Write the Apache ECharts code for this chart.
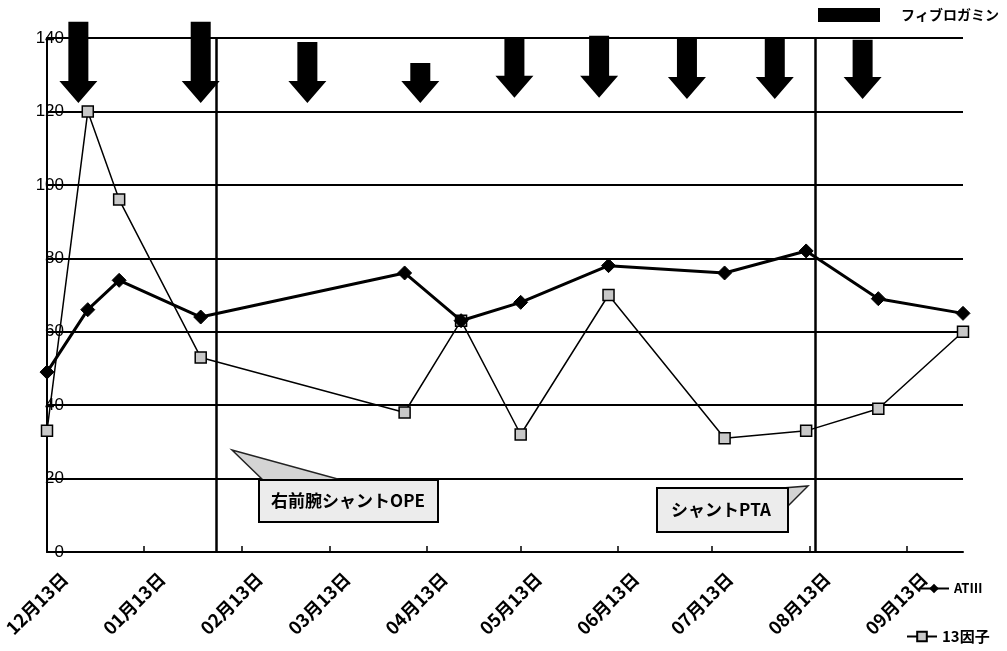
<!DOCTYPE html>
<html>
<head>
<meta charset="utf-8">
<script src="https://cdn.jsdelivr.net/npm/echarts@6/dist/echarts.min.js"></script>
<style>
html, body { margin: 0; padding: 0; background: #fff; }
#chart { width: 1007px; height: 651px; }
</style>
</head>
<body>
<div id="chart"></div>
<script>
// measurement dates (shared by both series)
const measureDates = ['2004-12-13', '2004-12-26', '2005-01-05', '2005-01-31', '2005-04-06', '2005-04-24',
                      '2005-05-13', '2005-06-10', '2005-07-17', '2005-08-12', '2005-09-04', '2005-10-01'];
const at3Values = [49, 66, 74, 64, 76, 63, 68, 78, 76, 82, 69, 65];
const f13Values = [33, 120, 96, 53, 38, 63, 32, 70, 31, 33, 39, 60];

// フィブロガミン given on these days; arrow top / tip read in y units
const fibroDates = ['2004-12-23', '2005-01-31', '2005-03-06', '2005-04-11', '2005-05-11',
                    '2005-06-07', '2005-07-05', '2005-08-02', '2005-08-30'];
const fibroTop = [144.4, 144.4, 138.9, 133.2, 140.3, 140.6, 140, 140, 139.5];
const fibroTip = [122.3, 122.3, 122.3, 122.3, 123.7, 123.7, 123.4, 123.4, 123.4];

// tick labels on the 13th of each month
const tickDates = ['2004-12-13', '2005-01-13', '2005-02-13', '2005-03-13', '2005-04-13',
                   '2005-05-13', '2005-06-13', '2005-07-13', '2005-08-13', '2005-09-13'];
// シャントOPE / シャントPTA
const eventDates = ['2005-02-05', '2005-08-15'];

const startDate = '2004-12-13';
const endDate = '2005-10-01';

// days since the first date (x axis is a plain value axis in days)
const DAY = 86400000;
function toDate(s) {
    const p = s.split('-').map(Number);
    return Date.UTC(p[0], p[1] - 1, p[2]);
}
const day = (s) => Math.round((toDate(s) - toDate(startDate)) / DAY);
const pad = (n) => String(n).padStart(2, '0');

const jp = '"Noto Sans CJK JP", sans-serif';
const chart = echarts.init(document.getElementById('chart'));

const option = {
    backgroundColor: '#fff',
    animation: false,
    grid: { left: 47, right: 44, top: 38, bottom: 99, containLabel: false, outerBoundsMode: 'none' },
    legend: [
        {
            data: [{ name: 'フィブロガミン', icon: 'rect' }],
            left: 818, top: 8, padding: 0,
            itemWidth: 62, itemHeight: 14,
            textStyle: { color: '#000', fontFamily: jp, fontWeight: 'bold', fontSize: 14, padding: [0, 0, 0, 16] }
        },
        {
            data: ['ATⅢ'],
            left: 918, top: 582, padding: 0,
            itemWidth: 30, itemHeight: 12,
            textStyle: { color: '#000', fontFamily: jp, fontWeight: 'bold', fontSize: 13 }
        },
        {
            data: ['13因子'],
            left: 906, top: 629, padding: 0,
            itemWidth: 30, itemHeight: 12,
            textStyle: { color: '#000', fontFamily: jp, fontWeight: 'bold', fontSize: 15 }
        }
    ],
    xAxis: {
        type: 'value',
        min: 0,
        max: day(endDate),
        axisLine: { show: true, lineStyle: { color: '#000', width: 2 } },
        axisTick: {
            show: true, inside: true, length: 6,
            customValues: tickDates.map(day),
            lineStyle: { color: '#000', width: 1.5 }
        },
        axisLabel: {
            customValues: tickDates.map(day),
            rotate: 45,
            margin: 6,
            color: '#000',
            fontFamily: jp,
            fontWeight: 'bold',
            fontSize: 18,
            // empty spacer line pushes the rotated text down-right of its tick
            formatter: (v) => {
                const d = new Date(toDate(startDate) + v * DAY);
                return '{s| }\n{t|' + pad(d.getUTCMonth() + 1) + '月' + pad(d.getUTCDate()) + '日}';
            },
            rich: {
                s: { height: 50, fontSize: 4 },
                t: { color: '#000', fontFamily: jp, fontWeight: 'bold', fontSize: 18 }
            }
        },
        splitLine: { show: false }
    },
    yAxis: {
        type: 'value',
        min: 0, max: 140, interval: 20,
        axisLine: { show: true, lineStyle: { color: '#000', width: 2 } },
        axisTick: { show: false },
        axisLabel: {
            color: '#000', fontFamily: '"Liberation Sans", Arial, sans-serif',
            fontSize: 17, margin: -17
        },
        splitLine: { show: true, lineStyle: { color: '#000', width: 2 } }
    },
    series: [
        {
            name: 'ATⅢ',
            type: 'line',
            data: measureDates.map((d, i) => [day(d), at3Values[i]]),
            symbol: 'diamond',
            symbolSize: 14,
            lineStyle: { color: '#000', width: 3 },
            itemStyle: { color: '#000', borderColor: '#000' },
            z: 4
        },
        {
            name: '13因子',
            type: 'line',
            data: measureDates.map((d, i) => [day(d), f13Values[i]]),
            symbol: 'rect',
            symbolSize: 11,
            lineStyle: { color: '#000', width: 1.5 },
            itemStyle: { color: '#c8c8c8', borderColor: '#000', borderWidth: 1.5 },
            z: 3,
            markLine: {
                silent: true,
                symbol: 'none',
                label: { show: false },
                lineStyle: { color: '#000', width: 2.5, type: 'solid' },
                data: eventDates.map((d) => ({ xAxis: day(d) }))
            }
        },
        {
            name: 'フィブロガミン',
            type: 'custom',
            clip: false,
            itemStyle: { color: '#000' },
            data: fibroDates.map((d, i) => [day(d), fibroTop[i], fibroTip[i]]),
            renderItem: (params, api) => {
                const top = api.coord([api.value(0), api.value(1)]);
                const tip = api.coord([api.value(0), api.value(2)]);
                const x = top[0];
                const hw = 10, aw = 19, ah = 22;
                const neck = tip[1] - ah;
                return {
                    type: 'polygon',
                    shape: {
                        points: [
                            [x - hw, top[1]], [x + hw, top[1]], [x + hw, neck], [x + aw, neck],
                            [x, tip[1]], [x - aw, neck], [x - hw, neck]
                        ]
                    },
                    style: { fill: '#000' }
                };
            },
            z: 5
        }
    ],
    graphic: [
        {
            type: 'polygon',
            shape: { points: [[232, 450], [264, 481], [345, 481]] },
            style: { fill: '#d4d4d4', stroke: '#222', lineWidth: 1.5 },
            z: 10
        },
        {
            type: 'rect',
            shape: { x: 259, y: 480, width: 179, height: 42 },
            style: { fill: '#ececec', stroke: '#000', lineWidth: 2 },
            z: 10
        },
        {
            type: 'text',
            x: 348, y: 501,
            style: {
                text: '右前腕シャントOPE', fill: '#000', font: 'bold 17px "Noto Sans CJK JP"',
                align: 'center', verticalAlign: 'middle'
            },
            z: 11
        },
        {
            type: 'polygon',
            shape: { points: [[770, 489], [808, 486], [788, 506]] },
            style: { fill: '#d4d4d4', stroke: '#222', lineWidth: 1.5 },
            z: 10
        },
        {
            type: 'rect',
            shape: { x: 657, y: 488, width: 131, height: 44 },
            style: { fill: '#ececec', stroke: '#000', lineWidth: 2 },
            z: 10
        },
        {
            type: 'text',
            x: 721, y: 510,
            style: {
                text: 'シャントPTA', fill: '#000', font: 'bold 17px "Noto Sans CJK JP"',
                align: 'center', verticalAlign: 'middle'
            },
            z: 11
        }
    ]
};

chart.setOption(option);
</script>
</body>
</html>
